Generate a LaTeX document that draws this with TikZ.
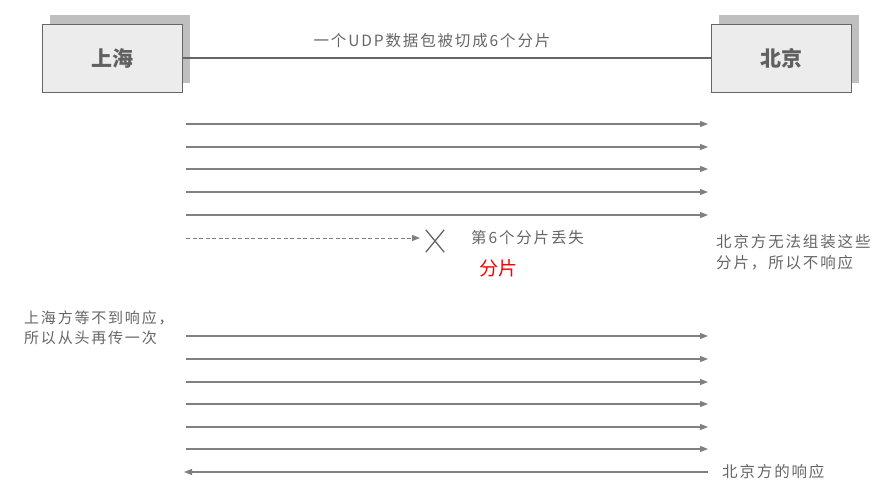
\documentclass[tikz,border=0pt]{standalone}
\usepackage{fontspec}
\setmainfont{Noto Sans CJK SC}
\newfontfamily\cjk[LetterSpace=12]{Noto Sans CJK SC}
\usepackage{tikz}
\usetikzlibrary{arrows.meta,positioning,shadows,shapes.misc}

\begin{document}
\begin{tikzpicture}[x=1pt, y=-1pt,
  city/.style  = {draw=gray!80!black, fill=gray!15, minimum width=140pt,
                  minimum height=68pt, font=\fontsize{21}{24}\selectfont\bfseries,
                  text=gray!75!black,
                  drop shadow={shadow xshift=8pt, shadow yshift=9pt,
                               fill=gray!50, opacity=1}},
  link/.style  = {draw=gray!80!black, line width=2pt},
  pkt/.style   = {-{Triangle[length=8pt, width=6pt]}, draw=gray, line width=1.1pt},
  lostpkt/.style = {pkt, dash pattern=on 4pt off 2.5pt, line width=1pt},
  note/.style  = {inner sep=0pt, align=left, text=gray!80!black,
                  font=\cjk\fontsize{15.5}{21}\selectfont},
  alert/.style = {inner sep=0pt, text=red, font=\fontsize{19}{22}\selectfont},
]
\useasboundingbox (0,0) rectangle (892,498);

\node[city] (sh) at (112,58) {上海};
\node[city] (bj) at (781,58) {北京};
\draw[link] (sh) -- (bj);
\node[note] (udp) at (432,41) {一个UDP数据包被切成6个分片};

% first try: six fragments
\foreach \y [count=\i] in {124,147,169,192,215} {
  \coordinate (a\i) at (186,\y);
  \coordinate (b\i) at (708,\y);
  \draw[pkt] (a\i) -- (b\i);
}
\coordinate (a6) at (186,238);
\coordinate (b6) at (420,238);
\draw[lostpkt] (a6) -- (b6);
\node[draw=gray!80!black, cross out, line width=1.3pt, minimum width=17pt,
      minimum height=21pt, inner sep=0pt] (lost) at (435,241) {};
\node[note, anchor=west] (lostmsg) at (471,238) {第6个分片丢失};
\node[alert] (frag) at (498,268) {分片};
\node[note, anchor=west] (bjfail) at (716,252) {北京方无法组装这些\\分片，所以不响应};

% second try: resend all
\node[note, anchor=west, font=\cjk\fontsize{15}{20}\selectfont] (shagain) at (24,328)
  {上海方等不到响应，\\所以从头再传一次};
\foreach \y [count=\i] in {336,359,382,404,427,449} {
  \coordinate (c\i) at (186,\y);
  \coordinate (d\i) at (708,\y);
  \draw[pkt] (c\i) -- (d\i);
}
\coordinate (rb) at (708,472);
\coordinate (rs) at (184,472);
\draw[pkt] (rb) -- (rs);
\node[note, anchor=west] (bjresp) at (722,472) {北京方的响应};

\end{tikzpicture}
\end{document}
